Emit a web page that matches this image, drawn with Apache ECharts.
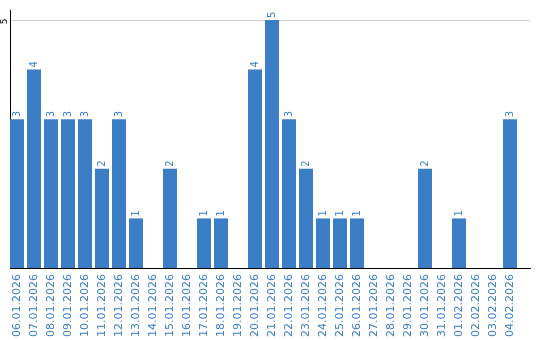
<!DOCTYPE html>
<html><head><meta charset="utf-8">
<script src="https://cdn.jsdelivr.net/npm/echarts@6/dist/echarts.min.js"></script>
<style>html,body{margin:0;padding:0;background:#fff}#c{width:540px;height:340px}</style>
</head><body><div id="c"></div>
<script>
var categories = ['06.01.2026','07.01.2026','08.01.2026','09.01.2026','10.01.2026','11.01.2026','12.01.2026','13.01.2026','14.01.2026','15.01.2026','16.01.2026','17.01.2026','18.01.2026','19.01.2026','20.01.2026','21.01.2026','22.01.2026','23.01.2026','24.01.2026','25.01.2026','26.01.2026','27.01.2026','28.01.2026','29.01.2026','30.01.2026','31.01.2026','01.02.2026','02.02.2026','03.02.2026','04.02.2026'];
var values = [3,4,3,3,3,2,3,1,0,2,0,1,1,0,4,5,3,2,1,1,1,0,0,0,2,0,1,0,0,3];
var yTicks = [5];

var blue = '#3b7ec6';
var chart = echarts.init(document.getElementById('c'), null, {renderer:'canvas'});
chart.setOption({
  animation:false,
  grid:{left:8.5, top:10, width:510, bottom:70, containLabel:false},
  xAxis:{type:'category', data:categories, boundaryGap:true,
    axisLine:{show:false}, axisTick:{show:false},
    axisLabel:{rotate:90, interval:0, margin:6, color:blue, fontFamily:'DejaVu Sans', fontSize:11}},
  yAxis:{type:'value', min:0, max:5.2, interval:5,
    axisLine:{show:false}, axisTick:{show:false}, splitLine:{show:false}, axisLabel:{show:false}},
  series:[{type:'bar', data:values.map(function(v){return v===0?null:v;}), barWidth:14, itemStyle:{color:blue},
    label:{show:true, position:'top', rotate:90, align:'left', verticalAlign:'middle', distance:2, color:blue, fontFamily:'DejaVu Sans', fontSize:10}}]
});
var y0 = chart.convertToPixel({yAxisIndex:0}, 0);
var g = [
  {type:'line', shape:{x1:10.5, y1:10, x2:10.5, y2:Math.round(y0)}, style:{stroke:'#000', lineWidth:1}},
  {type:'line', shape:{x1:10, y1:Math.round(y0)+0.5, x2:531, y2:Math.round(y0)+0.5}, style:{stroke:'#000', lineWidth:1}}
];
yTicks.forEach(function(t){
  var yy = Math.round(chart.convertToPixel({yAxisIndex:0}, t));
  g.push({type:'line', shape:{x1:10, y1:yy+0.5, x2:530, y2:yy+0.5}, style:{stroke:'#cccccc', lineWidth:1}, z:-1});
  g.push({type:'text', x:4.5, y:yy+1.5, rotation:Math.PI/2, style:{text:String(t), fill:'#000', font:'9px "DejaVu Sans"', align:'center', verticalAlign:'middle'}});
});
chart.setOption({graphic:g});
</script></body></html>
